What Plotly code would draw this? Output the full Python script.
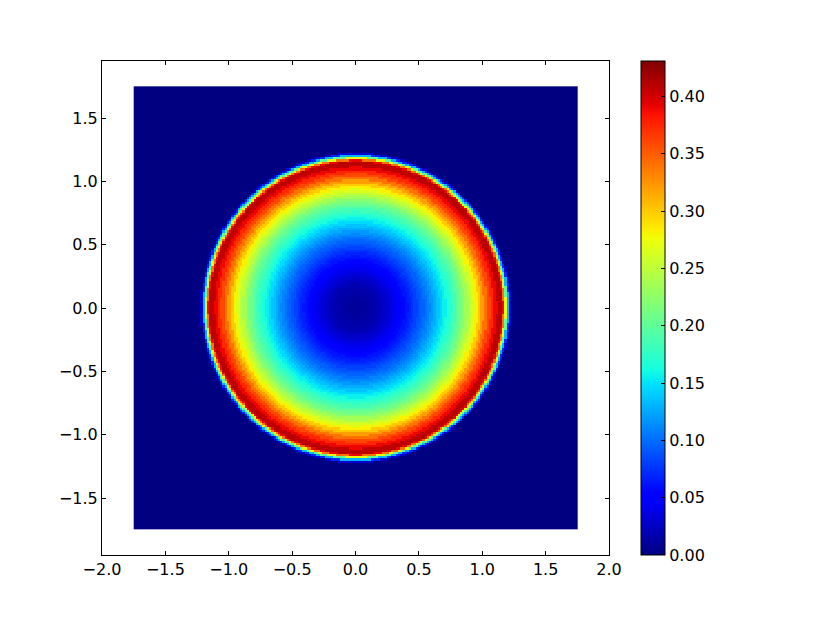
import numpy as np
import plotly.graph_objects as go

PROFILE_RADIUS = [0.000, 0.025, 0.050, 0.075, 0.100, 0.125, 0.150, 0.175, 0.200, 0.225,
                  0.250, 0.275, 0.300, 0.325, 0.350, 0.375, 0.400, 0.425, 0.450, 0.475,
                  0.500, 0.525, 0.550, 0.575, 0.600, 0.625, 0.650, 0.675, 0.700, 0.725,
                  0.750, 0.775, 0.800, 0.825, 0.850, 0.875, 0.900, 0.925, 0.950, 0.975,
                  1.000, 1.025, 1.050, 1.075, 1.100, 1.125, 1.150, 1.160, 1.170, 1.180,
                  1.190, 1.200, 1.210, 1.220, 1.230]
PROFILE_VALUE = [0.010, 0.010, 0.011, 0.012, 0.013, 0.015, 0.017, 0.019, 0.022, 0.026,
                 0.030, 0.035, 0.040, 0.045, 0.050, 0.056, 0.062, 0.068, 0.075, 0.081,
                 0.088, 0.095, 0.102, 0.110, 0.118, 0.127, 0.136, 0.146, 0.156, 0.165,
                 0.175, 0.185, 0.195, 0.207, 0.220, 0.235, 0.250, 0.265, 0.282, 0.300,
                 0.320, 0.340, 0.360, 0.375, 0.390, 0.408, 0.410, 0.390, 0.340, 0.270,
                 0.200, 0.130, 0.070, 0.030, 0.000]
GRID_EDGE = [-1.75, 1.75]
GRID_CELLS = 200
AXIS_TICKS = [-2.0, -1.5, -1.0, -0.5, 0.0, 0.5, 1.0, 1.5, 2.0]
Y_TICKS = [-1.5, -1.0, -0.5, 0.0, 0.5, 1.0, 1.5]
COLORBAR_TICKS = [0.00, 0.05, 0.10, 0.15, 0.20, 0.25, 0.30, 0.35, 0.40]
Z_MAX = 0.431

# Matplotlib's classic jet colormap
def jet_scale():
    stops = sorted({0, .11, .125, .34, .35, .375, .64, .65, .66, .89, .91, 1})
    rows = []
    for s in stops:
        r = np.interp(s, [0, .35, .66, .89, 1], [0, 0, 1, 1, .5])
        g = np.interp(s, [0, .125, .375, .64, .91, 1], [0, 0, 1, 1, 0, 0])
        b = np.interp(s, [0, .11, .34, .65, 1], [.5, 1, 1, 0, 0])
        rows.append([s, f"rgb({r*255:.0f},{g*255:.0f},{b*255:.0f})"])
    return rows

edges = np.linspace(GRID_EDGE[0], GRID_EDGE[1], GRID_CELLS + 1)
centres = (edges[:-1] + edges[1:]) / 2
xx, yy = np.meshgrid(centres, centres)
rr = np.hypot(xx, yy)
table_r = np.array(PROFILE_RADIUS)
table_v = np.array(PROFILE_VALUE)
nearest = np.abs(rr[..., None] - table_r).argmin(axis=-1)
z = table_v[nearest]
z[rr > PROFILE_RADIUS[-1]] = 0.0

FONT = dict(family="DejaVu Sans", size=16, color="black")

fig = go.Figure(go.Heatmap(
    x=centres, y=centres, z=z, zmin=0, zmax=Z_MAX,
    colorscale=jet_scale(), zsmooth=False, hoverinfo="skip",
    colorbar=dict(
        x=(641 - 102) / 507, xanchor="left", xpad=0, ypad=0,
        y=0, yanchor="bottom", len=1, lenmode="fraction",
        thickness=24, thicknessmode="pixels",
        outlinecolor="black", outlinewidth=1,
        tickmode="array", tickvals=COLORBAR_TICKS, tickformat=".2f",
        ticks="inside", ticklen=4, tickcolor="black", tickwidth=1,
        tickfont=FONT,
    ),
))
axis_common = dict(
    showgrid=False, zeroline=False, showline=True, linecolor="black", linewidth=1,
    mirror="ticks", ticks="inside", ticklen=4, tickcolor="black", tickwidth=1,
    tickformat=".1f", tickfont=FONT,
)
fig.update_xaxes(range=[-2, 2], tickmode="array", tickvals=AXIS_TICKS, **axis_common)
fig.update_yaxes(range=[-1.95, 1.95], tickmode="array", tickvals=Y_TICKS, **axis_common)
fig.update_layout(
    width=817, height=617, autosize=False,
    margin=dict(l=102, r=208, t=61, b=62, pad=0),
    paper_bgcolor="white", plot_bgcolor="white", font=FONT,
)
fig.write_html("out.html", config={"displayModeBar": False},
               post_script="document.body.style.margin='0';document.documentElement.style.overflow='hidden';")
